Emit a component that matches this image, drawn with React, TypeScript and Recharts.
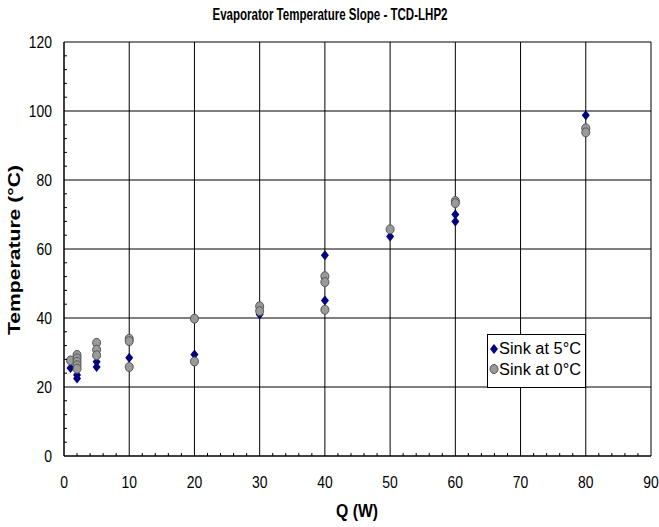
import React from 'react';
import { ScatterChart, Scatter, XAxis, YAxis, CartesianGrid } from 'recharts';

// Sink at 5°C
const sink5Q = [1, 2, 2, 5, 5, 10, 10, 20, 20, 30, 40, 40, 50, 60, 60, 80];
const sink5T = [25.5, 23.5, 22.5, 27.3, 25.8, 28.5, 33.5, 29.4, 39.8, 41, 58.2, 45.1, 63.6, 70, 68, 98.8];

// Sink at 0°C
const sink0Q = [1, 2, 2, 2, 2, 2, 5, 5, 5, 10, 10, 10, 20, 20, 30, 30, 40, 40, 40, 50, 60, 60, 80, 80];
const sink0T = [27.7, 29.3, 28.3, 27.3, 26.3, 25.3, 32.8, 30.8, 29.2, 34, 33.3, 25.8, 39.8, 27.4, 43.4, 42, 52.1, 50.4, 42.4, 65.7, 73.9, 73.3, 95, 93.8];

const xTicks = [0, 10, 20, 30, 40, 50, 60, 70, 80, 90];
const xAllTicks = [0, 2, 4, 6, 8, 10, 12, 14, 16, 18, 20, 22, 24, 26, 28, 30, 32, 34, 36, 38, 40, 42, 44, 46, 48, 50, 52, 54, 56, 58, 60, 62, 64, 66, 68, 70, 72, 74, 76, 78, 80, 82, 84, 86, 88, 90];
const yTicks = [0, 20, 40, 60, 80, 100, 120];
const yAllTicks = [0, 4, 8, 12, 16, 20, 24, 28, 32, 36, 40, 44, 48, 52, 56, 60, 64, 68, 72, 76, 80, 84, 88, 92, 96, 100, 104, 108, 112, 116, 120];

const sink5 = sink5Q.map((q, i) => ({ q, t: sink5T[i] }));
const sink0 = sink0Q.map((q, i) => ({ q, t: sink0T[i] }));

const font = '"Liberation Sans", Arial, sans-serif';
const squeeze = 0.82; // the original's text is narrower than plain Arial

const Diamond = (props: any) => {
  const { cx, cy } = props;
  return <polygon points={`${cx},${cy - 5} ${cx + 4},${cy} ${cx},${cy + 5} ${cx - 4},${cy}`} fill="#000080" />;
};

const Dot = (props: any) => {
  const { cx, cy } = props;
  return <ellipse cx={cx} cy={cy} rx={4} ry={4.5} fill="#9a9a9a" stroke="#555" strokeWidth={1} />;
};

// minor ticks point inwards, labels only on the major ones
const XTick = (props: any) => {
  const { x, y, payload } = props;
  const v = payload.value;
  if (v % 10 !== 0) {
    return <line x1={x} x2={x} y1={y} y2={y - 3} stroke="#000" />;
  }
  return (
    <text transform={`translate(${x},${y + 32}) scale(${squeeze},1)`} textAnchor="middle"
      fontFamily={font} fontSize={17} fill="#000">
      {v}
    </text>
  );
};

const YTick = (props: any) => {
  const { x, y, payload } = props;
  const v = payload.value;
  if (v % 20 !== 0) {
    return <line x1={x} x2={x + 3} y1={y} y2={y} stroke="#000" />;
  }
  return (
    <text transform={`translate(${x - 12},${y + 6}) scale(${squeeze},1)`} textAnchor="end"
      fontFamily={font} fontSize={17} fill="#000">
      {v}
    </text>
  );
};

const App: React.FC = () => {
  return (
    <div style={{ position: 'absolute', left: 0, top: 0, background: '#fff' }}>
      <ScatterChart width={659} height={527} margin={{ top: 42, right: 8, left: 0, bottom: 30 }}>
        <text x={330} y={20} textAnchor="middle" fontFamily={font} fontWeight="bold" fontSize={17}
          textLength={235} lengthAdjust="spacingAndGlyphs" fill="#000">
          Evaporator Temperature Slope - TCD-LHP2
        </text>
        <CartesianGrid stroke="#000" strokeWidth={1} horizontalValues={yTicks} verticalValues={xTicks} />
        <XAxis
          type="number"
          dataKey="q"
          domain={[0, 90]}
          ticks={xAllTicks}
          interval={0}
          height={41}
          stroke="#000"
          tickLine={false}
          tickSize={0}
          tickMargin={0}
          tick={<XTick />}
        />
        <YAxis
          type="number"
          dataKey="t"
          domain={[0, 120]}
          ticks={yAllTicks}
          interval={0}
          width={64}
          stroke="#000"
          tickLine={false}
          tickSize={0}
          tickMargin={0}
          tick={<YTick />}
        />
        <text x={357} y={517} textAnchor="middle" fontFamily={font} fontWeight="bold" fontSize={18}
          textLength={42} lengthAdjust="spacingAndGlyphs" fill="#000">
          Q (W)
        </text>
        <text transform="translate(20,250) rotate(-90)" textAnchor="middle" fontFamily={font} fontWeight="bold"
          fontSize={17} textLength={170} lengthAdjust="spacingAndGlyphs" fill="#000">
          Temperature (°C)
        </text>
        <Scatter name="Sink at 5°C" data={sink5} shape={<Diamond />} isAnimationActive={false} />
        <Scatter name="Sink at 0°C" data={sink0} shape={<Dot />} isAnimationActive={false} />
        <g>
          <rect x={487.5} y={334.5} width={98} height={53} fill="#fff" stroke="#000" />
          <polygon points="494,344 498,349 494,354 490,349" fill="#000080" />
          <text x={499} y={354} fontFamily={font} fontSize={16} textLength={82} lengthAdjust="spacingAndGlyphs" fill="#000">Sink at 5°C</text>
          <ellipse cx={494} cy={369} rx={4} ry={4.5} fill="#9a9a9a" stroke="#555" />
          <text x={499} y={375} fontFamily={font} fontSize={16} textLength={82} lengthAdjust="spacingAndGlyphs" fill="#000">Sink at 0°C</text>
        </g>
      </ScatterChart>
    </div>
  );
};

export default App;
